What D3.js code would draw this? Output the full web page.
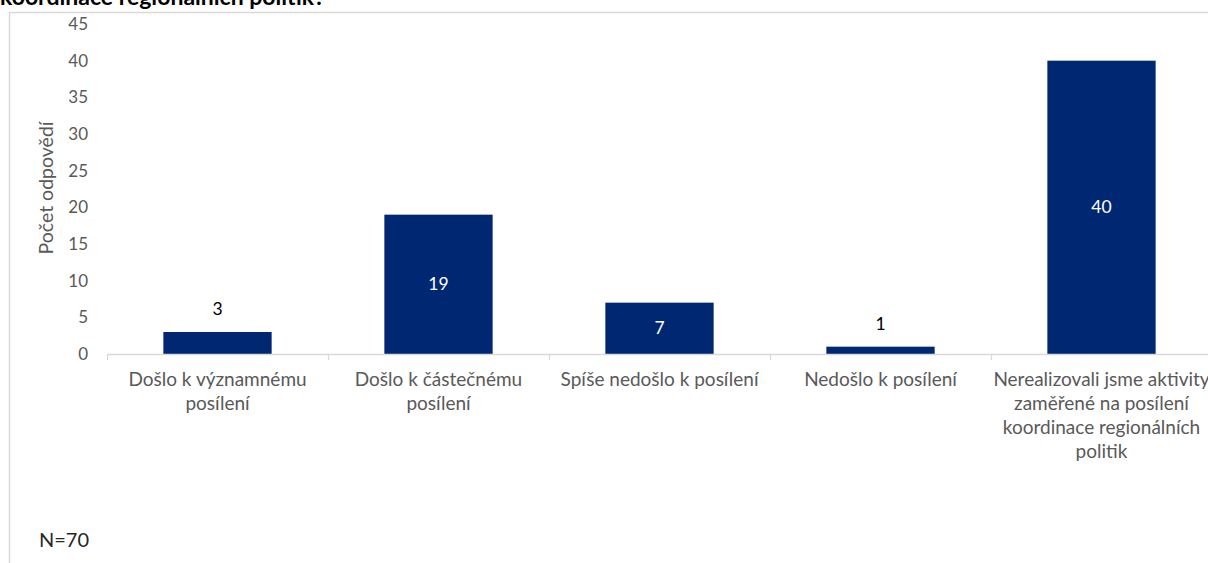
<!DOCTYPE html>
<html><head><meta charset="utf-8">
<script src="https://cdn.jsdelivr.net/npm/d3@7"></script>
<style>
html,body{margin:0;padding:0;background:#fff;}
svg{display:block;font-family:Lato,"Open Sans",sans-serif;}
</style></head>
<body>
<svg id="c" width="1208" height="563"></svg>
<script>
const title = "koordinace regionálních politik?";
const categories = [
  "Došlo k významnému\nposílení",
  "Došlo k částečnému\nposílení",
  "Spíše nedošlo k posílení",
  "Nedošlo k posílení",
  "Nerealizovali jsme aktivity\nzaměřené na posílení\nkoordinace regionálních\npolitik"
];
const values = [3, 19, 7, 1, 40];
const yTicks = [0, 5, 10, 15, 20, 25, 30, 35, 40, 45];
const yTitle = "Počet odpovědí";
const note = "N=70";

const svg = d3.select("#c");
const barColor = "#002771";
const gray = "#595959";

// title (only last line visible)
svg.append("text").attr("x", 0).attr("y", 5)
  .attr("font-weight", "bold").attr("font-size", 23).attr("fill", "#000")
  .text(title);

// chart area border
svg.append("path")
  .attr("d", "M1210,12.5 H9.5 V565")
  .attr("fill", "none").attr("stroke", "#d9d9d9").attr("stroke-width", 1.5);

const y = d3.scaleLinear().domain([0, 45]).range([354, 24]);
const x = d3.scaleBand().domain(categories).range([107, 1212])
  .paddingInner(0.51).paddingOuter(0.255);

// y axis labels
const yAxis = d3.axisLeft(y).tickValues(yTicks).tickSize(0).tickPadding(0);
const gy = svg.append("g").attr("transform", "translate(88,0)").call(yAxis);
gy.select(".domain").remove();
gy.selectAll("text").attr("font-size", 17).attr("fill", gray)
  .attr("font-family", "Lato, 'Open Sans', sans-serif");

// y title
svg.append("text")
  .attr("transform", "translate(53,188) rotate(-90)")
  .attr("text-anchor", "middle").attr("font-size", 19.5).attr("fill", gray)
  .text(yTitle);

// bars
svg.selectAll("rect.bar").data(values).join("rect")
  .attr("class", "bar")
  .attr("x", (d, i) => x(categories[i]))
  .attr("width", x.bandwidth())
  .attr("y", d => y(d))
  .attr("height", d => y(0) - y(d))
  .attr("fill", barColor);

// x axis line and ticks
const step = x.step();
const x0 = x.range()[0];
svg.append("line").attr("x1", x0).attr("x2", 1212)
  .attr("y1", 354.5).attr("y2", 354.5).attr("stroke", "#d9d9d9").attr("stroke-width", 1.5);
categories.forEach((c, i) => {
  const tx = Math.round(x(c) - step * x.paddingOuter()) + 0.5;
  svg.append("line").attr("x1", tx).attr("x2", tx).attr("y1", 354).attr("y2", 360)
    .attr("stroke", "#d9d9d9").attr("stroke-width", 1.2);
});

// category labels
categories.forEach((c, i) => {
  const cx = x(c) + x.bandwidth() / 2;
  const t = svg.append("text").attr("text-anchor", "middle")
    .attr("font-size", 19).attr("fill", gray);
  c.split("\n").forEach((line, j) => {
    t.append("tspan").attr("x", cx).attr("y", 386 + j * 24).text(line);
  });
});

// value labels
values.forEach((v, i) => {
  const cx = x(categories[i]) + x.bandwidth() / 2;
  const inside = v >= 5;
  const ty = inside ? (y(v) + y(0)) / 2 + 6 : y(v) - 17;
  svg.append("text").attr("x", cx).attr("y", ty)
    .attr("text-anchor", "middle").attr("font-size", 17.5)
    .attr("fill", inside ? "#ffffff" : "#000000")
    .text(v);
});

// note
svg.append("text").attr("x", 39).attr("y", 547)
  .attr("font-size", 20).attr("fill", "#262626").text(note);
</script>
</body></html>
